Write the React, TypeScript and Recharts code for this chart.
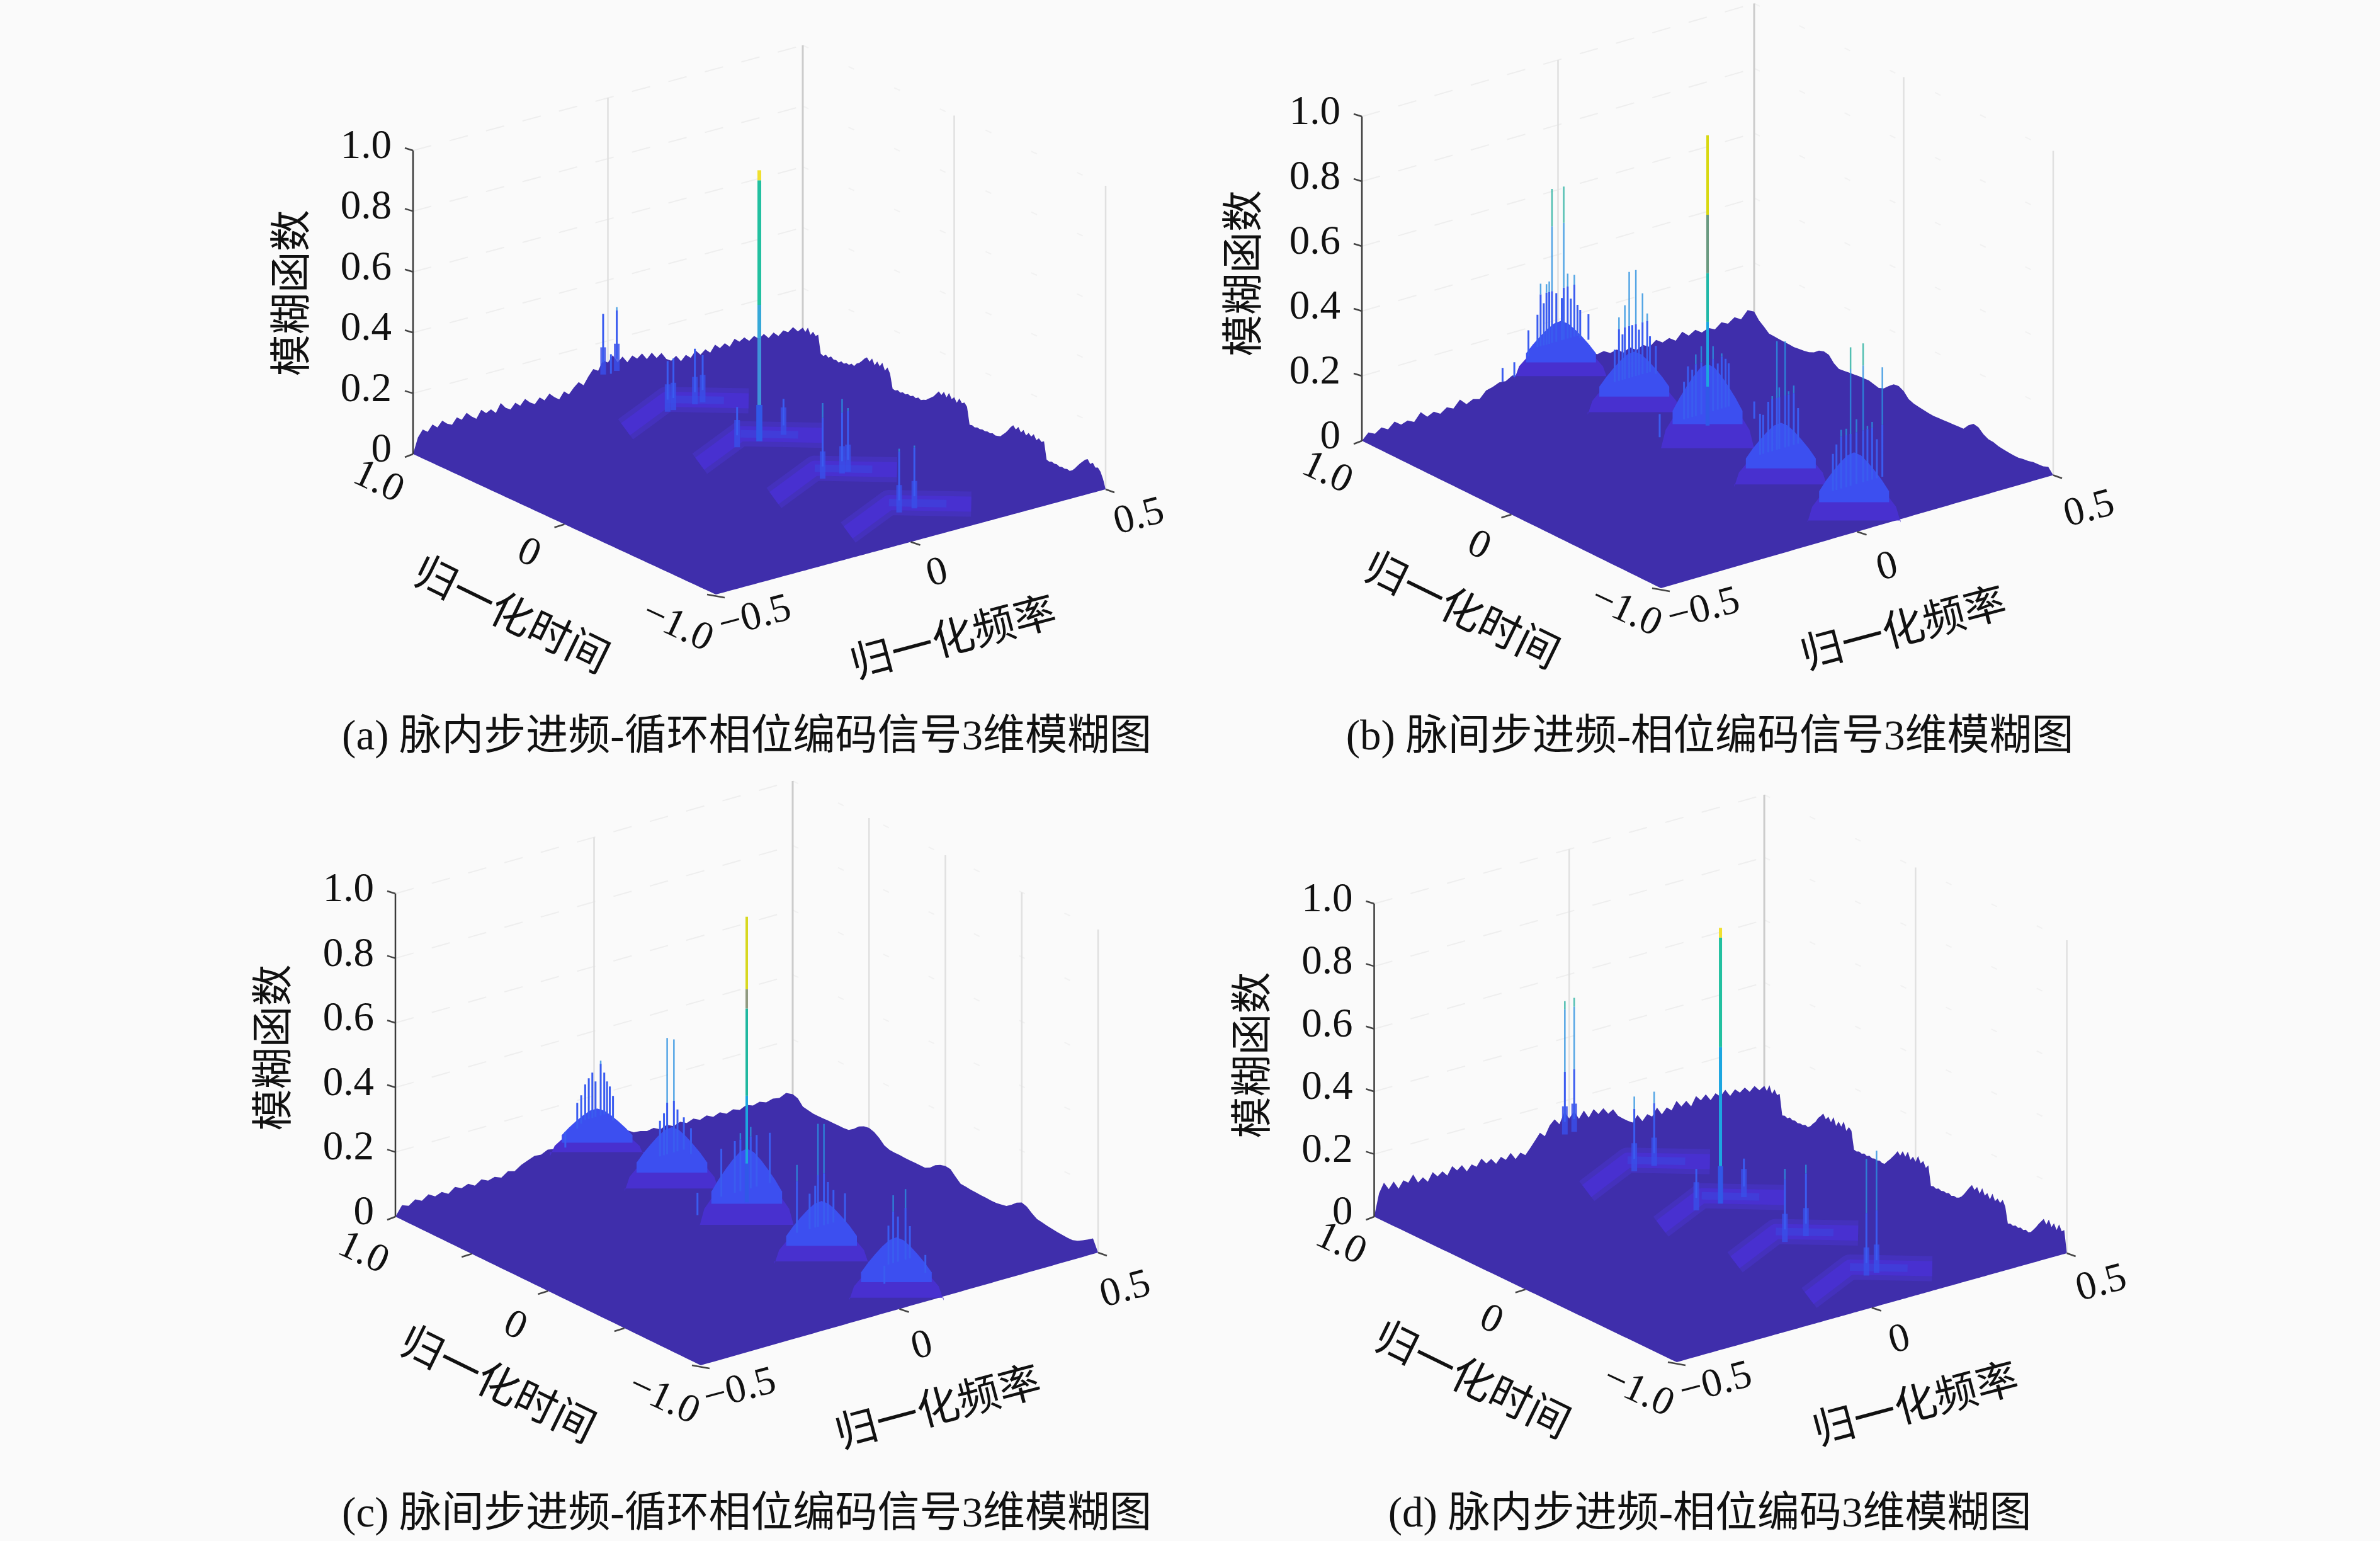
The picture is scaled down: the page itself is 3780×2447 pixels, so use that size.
import React from 'react';
import { ComposedChart, Area, Line, Scatter, XAxis, YAxis } from 'recharts';

const S = 3780 / 1568;
const LATIN = '"Liberation Serif","DejaVu Serif",serif';
const CJK = '"Liberation Serif","Noto Sans CJK SC",sans-serif';

const zTicks = [0, 0.2, 0.4, 0.6, 0.8, 1.0];
const zTickText = ['0', '0.2', '0.4', '0.6', '0.8', '1.0'];
const peakTimes = [0.98, 0.49, 0, -0.49, -0.98];

const aLeft = [0,.05,.072,.06,.08,.066,.084,.07,.062,.082,.07,.088,.072,.06,.085,.07,.078,.062,.09,.07,.06,.078,.064,.082,.066,.056,.074,.06,.078,.062,.05,.072,.058,.076,.09,.075,.1,.12,.11,.14,.128,.148,.12,.135,.112,.13,.115,.128,.105,.122,.1,.112,.088,.078,.09,.068,.084,.07,.09,.072,.085,.07,.092,.076,.088,.072,.094,.08,.09,.074,.086,.072,.084,.066,.08,.064,.078,.068,.08,.062,.07];
const aRight = [.07,.06,.078,.058,.072,.062,.07,.012,.008,.016,.01,.018,.012,.014,.01,.018,.014,.02,.018,.026,.022,.034,.04,.05,.062,.07,.06,.074,.056,.072,.06,.076,.054,.068,.052,.006,.004,.009,.005,.01,.007,.012,.009,.014,.01,.016,.012,.017,.02,.028,.036,.044,.056,.068,.06,.074,.06,.078,.062,.072,.058,.076,.064,.07,.06,.005,.007,.004,.008,.006,.009,.007,.01,.008,.012,.009,.011,.014,.024,.034,.046,.06,.07,.06,.072,.058,.07,.056,.068,.06,.072,.056,.066,.058,.064,.008,.005,.009,.006,.008,.004,.007,.005,.008,.006,.012,.022,.034,.046,.056,.066,.072,.06,.068,.056,.06,.05,.03,0];
const bLeft = [0,.02,.01,.024,.012,.03,.015,.022,.012,.036,.016,.026,.014,.028,.018,.04,.02,.03,.024,.045,.05,.058,.056,.068,.062,.072,.066,.074,.07,.076,.07,.078,.07,.076,.066,.07,.058,.062,.05,.055,.04,.05,.036,.046,.034,.05,.036,.044,.03,.052,.034,.046,.032,.04,.03,.046,.036,.05,.038,.06,.05];
const bRight = [.035,.03,.018,.005,.004,.003,.002,.002,.001,.003,.005,.008,.015,.028,.033,.03,.012,.002,.004,.006,.008,.01,.011,.012,.008,.004,.01,.025,.038,.04,.032,.015,.009,.006,.004,.002,.001,.002,.003,.004,.005,.006,.007,.025,.037,.034,.02,.012,.011,.006,.004,.002,.001,.001,.004,.006,.01,.011,.012,.018,0];
const cLeft = [0,.03,.022,.036,.026,.04,.028,.036,.024,.04,.03,.038,.026,.04,.03,.036,.028,.042,.036,.05,.058,.066,.064,.074,.07,.08,.074,.082,.076,.084,.076,.08,.07,.072,.062,.064,.052,.05,.044,.048,.038,.046,.036,.044,.034,.042,.032,.04,.03,.038,.028,.036,.028,.038,.03,.036,.028,.034,.03,.04,.03];
const cRight = [.03,.025,.007,.004,.001,.001,.001,.002,.002,.002,.002,.004,.015,.03,.038,.041,.036,.025,.01,.004,.003,.003,.002,.002,.002,.002,.002,.01,.025,.034,.038,.036,.02,.006,.005,.003,.002,.001,.001,0,0,.003,.006,.018,.032,.04,.035,.022,.012,.009,.006,.004,.002,.001,0,0,.006,.015,.025,.036,0];
const dLeft = [0,.07,.1,.075,.095,.068,.09,.078,.1,.07,.082,.064,.09,.072,.084,.066,.092,.074,.086,.062,.08,.068,.09,.07,.08,.06,.078,.064,.082,.058,.074,.062,.08,.1,.12,.105,.135,.15,.13,.165,.14,.158,.13,.152,.125,.148,.128,.142,.12,.13,.105,.092,.08,.07,.09,.066,.084,.072,.096,.07,.088,.074,.1,.078,.092,.07,.098,.08,.095,.072,.09,.075,.092,.068,.085,.07,.082,.064,.078,.06,.07];
const dRight = [.07,.058,.08,.056,.074,.06,.068,.003,.006,.002,.008,.003,.006,.002,.005,.004,.008,.005,.012,.024,.034,.05,.06,.072,.058,.07,.056,.076,.052,.07,.058,.078,.052,.068,.06,.004,.002,.006,.003,.007,.003,.008,.004,.007,.005,.008,.004,.006,.018,.028,.04,.052,.066,.056,.074,.06,.08,.058,.072,.06,.082,.062,.074,.056,.068,.006,.009,.005,.01,.006,.009,.007,.011,.006,.01,.008,.012,.02,.032,.046,.06,.072,.06,.074,.056,.078,.058,.07,.054,.076,.056,.068,.058,.072,.054,.004,.008,.005,.01,.006,.011,.007,.012,.008,.013,.024,.036,.05,.062,.074,.06,.08,.06,.076,.058,.08,.062,.07,0];

// [peak index, frequency offset, amplitude]
const aSpikes = [[0,-.02,.30],[0,.015,.31],[0,0,.16],[1,-.045,.267],[1,-.03,.27],[1,.025,.283],[1,.045,.255],[2,-.057,.233],[2,.062,.218],[3,-.028,.349],[3,.022,.345],[3,.037,.31],[4,-.022,.31],[4,.017,.307]];
const bSpikes = [[0,-.023,.615],[0,.007,.612],[0,-.052,.333],[0,-.037,.326],[0,-.03,.332],[0,.017,.34],[0,.034,.33],[0,.07,.196],[0,-.083,.2],[0,-.119,.114],[0,-.149,.107],[0,.049,.217],[1,-.013,.467],[1,.004,.467],[1,-.039,.336],[1,.033,.323],[1,.021,.389],[1,-.024,.368],[2,-.06,.256],[2,-.039,.286],[2,.026,.282],[2,.054,.273],[2,-.122,.178],[2,.119,.133],[3,-.01,.475],[3,.011,.467],[3,-.032,.296],[3,.033,.323],[3,-.053,.266],[4,-.009,.567],[4,.023,.568],[4,-.033,.321],[4,.072,.477],[4,.046,.318],[4,-.054,.254],
  [0,-.06,.24],[0,-.044,.27],[0,-.012,.29],[0,.002,.27],[0,.025,.26],[0,.042,.235],[1,-.05,.24],[1,-.03,.28],[1,-.005,.3],[1,.012,.28],[1,.04,.25],[1,.055,.215],[2,-.05,.3],[2,-.03,.33],[2,-.016,.35],[2,.014,.34],[2,.036,.31],[2,.046,.29],[3,-.045,.26],[3,-.022,.31],[3,-.004,.33],[3,.02,.31],[3,.044,.25],[4,-.045,.28],[4,-.02,.32],[4,.006,.34],[4,.034,.31],[4,.058,.26]];
const cSpikes = [[0,-.021,.266],[0,.009,.31],[0,.032,.222],[0,-.05,.2],[0,-.08,.12],[1,-.012,.50],[1,.005,.49],[1,.048,.2],[2,-.064,.288],[2,.058,.295],[2,-.124,.173],[3,-.009,.459],[3,.006,.453],[3,-.062,.35],[3,.059,.22],[4,-.03,.14],[4,-.008,.35],[4,.023,.358],[4,.073,.137],
  [0,-.04,.22],[0,-.03,.25],[0,-.012,.28],[0,-.004,.25],[0,.018,.27],[0,.025,.24],[0,.04,.19],[1,-.03,.25],[1,-.02,.27],[1,.014,.27],[1,.03,.24],[2,-.03,.3],[2,-.016,.32],[2,.01,.33],[2,.025,.3],[3,-.03,.25],[3,-.016,.27],[3,.016,.27],[3,.03,.24],[4,-.02,.26],[4,.004,.28],[4,.034,.24]];
const dSpikes = [[0,-.019,.526],[0,.005,.528],[1,-.031,.339],[1,.02,.337],[2,-.062,.233],[2,.06,.223],[3,-.025,.334],[3,.029,.328],[4,-.006,.473],[4,.02,.49]];

// [from, to, colour] along the central spike
const aMain = [[.1,.22,'#3058e8'],[.22,.44,'#3f93d8'],[.44,.55,'#36a8d8'],[.55,.96,'#22c0a0'],[.96,.993,'#f0e030']];
const bMain = [[.1,.22,'#3058e8'],[.22,.42,'#1ca6e0'],[.42,.57,'#20b8a8'],[.57,.75,'#6a9a80'],[.75,.995,'#d8d810']];
const cMain = [[.1,.22,'#3058e8'],[.22,.43,'#1ca6e0'],[.43,.7,'#20b8a0'],[.7,.76,'#909a80'],[.76,.984,'#d8d820']];
const dMain = [[.1,.22,'#3058e8'],[.22,.6,'#1ca6e0'],[.6,.95,'#22c0a0'],[.95,.981,'#f0e030']];

const bHumps = [.2, .217, .29, .22, .24];
const cHumps = [.165, .22, .266, .217, .217];
const humpU = [-1,-.9,-.75,-.6,-.45,-.3,-.15,0,.15,.3,.45,.6,.75,.9,1];
const humpShape = [.1,.3,.5,.64,.76,.87,.96,1,.96,.87,.76,.64,.5,.3,.1];

const bandF = [-.09,-.004,.124];
const bandT = [.162,.114,-.1];
const bandA = [.02,.1,.1];

const panels = [
  { id:'a', ox:0, oy:0, L:[656,721], F:[1137,944], R:[1756,777], H:482, left:aLeft, right:aRight, spikes:aSpikes, main:aMain, mainW:6, humps:null, timeTicks:[0], caption:'(a) 脉内步进频-循环相位编码信号3维模糊图', capX:492, capY:484,
    zl:[192,193], tl:[337,405], fl:[628,420], tt:[[250,316],[349,363],[447,411]], ft:[[497,405],[617,376],[750,339]] },
  { id:'b', ox:1890, oy:0, L:[2163,700], F:[2638,934], R:[3261,754.5], H:515, left:bLeft, right:bRight, spikes:bSpikes, main:bMain, mainW:4, humps:bHumps, timeTicks:[0], caption:'(b) 脉间步进频-相位编码信号3维模糊图', capX:1126.5, capY:484,
    zl:[819,180], tl:[963,402], fl:[1254,414], tt:[[875,310],[975,358],[1072,401]], ft:[[1122,400],[1243,372],[1376,334]] },
  { id:'c', ox:0, oy:1223, L:[628,1932], F:[1113,2168], R:[1744,1989], H:513, left:cLeft, right:cRight, spikes:cSpikes, main:cMain, mainW:4, humps:cHumps, timeTicks:[.5,0,-.5], caption:'(c) 脉间步进频-循环相位编码信号3维模糊图', capX:492, capY:996,
    zl:[180,690], tl:[328,912], fl:[618,927], tt:[[240,824],[340,872],[438,920]], ft:[[487,914],[607,885],[741,848]] },
  { id:'d', ox:1890, oy:1223, L:[2182.5,1932], F:[2663,2163], R:[3282.6,1990], H:497, left:dLeft, right:dRight, spikes:dSpikes, main:dMain, mainW:5, humps:null, timeTicks:[0], caption:'(d) 脉内步进频-相位编码3维模糊图', capX:1126.5, capY:996,
    zl:[825,695], tl:[970,909], fl:[1262,925], tt:[[884,818],[983,868],[1080,915]], ft:[[1130,910],[1251,881],[1384,844]] },
];

const CW = 1890, CH = 1224;

function build(p: any) {
  const L = [p.L[0]-p.ox, p.L[1]-p.oy], F = [p.F[0]-p.ox, p.F[1]-p.oy], R = [p.R[0]-p.ox, p.R[1]-p.oy];
  const H = p.H;
  const vOf = (y: number) => (L[1]-y)/H;
  const P = (f: number, t: number, a: number) => {
    const u = f+.5, w = (t+1)/2;
    const x = F[0]+u*(R[0]-F[0])+w*(L[0]-F[0]);
    const y = F[1]+u*(R[1]-F[1])+w*(L[1]-F[1])-a*H;
    return { x, v: vOf(y) };
  };
  const brk = { x: 0, v: null as any };
  const segs = (list: any[][]) => { const o: any[] = []; list.forEach(s => { s.forEach(q => o.push(q)); o.push(brk); }); return o; };
  const off = (q: any, dx: number, dy: number) => ({ x: q.x+dx, v: q.v-dy/H });

  // surface
  const top: any[] = [];
  p.left.forEach((a: number, i: number) => top.push(P(-.5+i/(p.left.length-1), 1, a)));
  p.right.forEach((a: number, i: number) => { if (i>0) top.push(P(.5, 1-2*i/(p.right.length-1), a)); });
  const base = (x: number) => x<=F[0]
    ? vOf(L[1]+(x-L[0])/(F[0]-L[0])*(F[1]-L[1]))
    : vOf(F[1]+(x-F[0])/(R[0]-F[0])*(R[1]-F[1]));
  const surf: any[] = [];
  top.forEach((q, i) => {
    if (i>0 && top[i-1].x<F[0] && q.x>=F[0]) {
      const r = (F[0]-top[i-1].x)/(q.x-top[i-1].x);
      surf.push({ x:F[0], range:[base(F[0]), top[i-1].v+r*(q.v-top[i-1].v)] });
    }
    surf.push({ x:q.x, range:[base(q.x), q.v] });
  });

  // walls
  const levels = zTicks.filter(z => z>0);
  const wallLeft = segs(levels.map(z => [P(-.5,1,z), P(.5,1,z)]));
  const wallRight = segs(levels.map(z => [P(.5,1,z), P(.5,-1,z)]));
  const backEdge = segs([[P(.5,1,0), P(.5,1,1)]]);
  const verts = segs([[P(0,1,0),P(0,1,1)], [P(.5,-1,0),P(.5,-1,1)], ...p.timeTicks.map((t: number) => [P(.5,t,0),P(.5,t,1)])]);
  const zAxis = segs([[P(-.5,1,0),P(-.5,1,1)]]);
  const ticks = segs([
    ...zTicks.map(z => { const q = P(-.5,1,z); return [q, off(q,-13,z===0?5:-4)]; }),
    ...p.timeTicks.map((t: number) => { const q = P(-.5,t,0); return [q, off(q,-16,5)]; }),
    (() => { const q = P(0,-1,0); return [q, off(q,15,5)]; })(),
    (() => { const q = P(-.5,-1,0); return [off(q,-14,0), off(q,14,5)]; })(),
    (() => { const q = P(.5,-1,0); return [q, off(q,14,5)]; })(),
  ]);

  // spikes
  const cls: any = { blue:[], sky:[], teal:[], glow:[] };
  p.spikes.forEach((s: number[]) => {
    const t = peakTimes[s[0]], f = s[1], a = s[2];
    const from = Math.min(.14, a*.6);
    cls.blue.push([P(f,t,from), P(f,t,Math.min(a,.3))]);
    if (a>.3) cls.sky.push([P(f,t,.3), P(f,t,Math.min(a,.5))]);
    if (a>.5) cls.teal.push([P(f,t,.5), P(f,t,a)]);
    if (!p.humps && a>.2) cls.glow.push([P(f,t,.1), P(f,t,.19)]);
  });
  const mains = p.main.map((m: any, i: number) => ({ color:m[2], wide:i===0, data:segs([[P(0,0,m[0]), P(0,0,m[1])]]) }));

  // bands
  const bandOuter: any[][] = [], bandInner: any[][] = [];
  const purple: any[] = [], light: any[] = [];
  if (!p.humps) {
    [1,2,3,4].forEach(k => {
      const t0 = peakTimes[k];
      bandOuter.push(bandF.map((f,i) => P(f,t0+bandT[i],bandA[i])));
      bandInner.push([1,2].map(i => { const r = i===2 ? .7 : 0; const f = bandF[1]+r*(bandF[2]-bandF[1]); const t = bandT[1]+r*(bandT[2]-bandT[1]); return P(f,t0+t,.1); }));
    });
  } else {
    const fy = R[1]-F[1], ty = (L[1]-F[1])/2;
    p.humps.forEach((h: number, k: number) => {
      const t0 = peakTimes[k];
      const pts = (hw: number, us: number[], shape: number[], lo: (s:number)=>number, hi: (s:number)=>number) => us.map((u,i) => {
        const df = u*hw, dt = -(fy/ty)*df;
        const qa = P(df,t0+dt,lo(shape[i])), qb = P(df,t0+dt,hi(shape[i]));
        return { x:qa.x, range:[qa.v,qb.v] };
      });
      purple.push(pts(.075,humpU,humpShape,()=>.03,s=>Math.min(s*h,h*.42)));
      light.push(pts(.075,humpU.slice(2,13),humpShape.slice(2,13),()=>h*.36,s=>Math.max(s*h,h*.36)));
    });
  }

  // labels
  const txt = (dx: number, dy: number, text: string, rot: number, size: number, family: string) => ({ x:dx*S-p.ox, v:vOf(dy*S-p.oy), text, rot, size, family });
  const labels = [
    txt(p.zl[0],p.zl[1],'模糊函数',-90,66,CJK),
    txt(p.tl[0],p.tl[1],'归一化时间',26,67,CJK),
    txt(p.fl[0],p.fl[1],'归一化频率',-15,67,CJK),
    ...['1.0','0','−1.0'].map((s,i) => txt(p.tt[i][0],p.tt[i][1],s,25,64,LATIN)),
    ...['−0.5','0','0.5'].map((s,i) => txt(p.ft[i][0],p.ft[i][1],s,-15,64,LATIN)),
    txt(p.capX,p.capY,p.caption,0,67,CJK),
  ];
  return { L, surf, wallLeft, wallRight, backEdge, verts, zAxis, ticks, blue:segs(cls.blue), sky:segs(cls.sky), teal:segs(cls.teal), glow:segs(cls.glow), mains,
    bandOuter:segs(bandOuter), bandInner:segs(bandInner), purple, light, labels,
    domain:[vOf(CH), vOf(0)] };
}

const lineProps: any = { dataKey:'v', dot:false, activeDot:false, isAnimationActive:false, connectNulls:false, legendType:'none', strokeLinecap:'butt' };

const labelShape = (q: any) => {
  const d = q.payload;
  return <text x={q.cx} y={q.cy} fontFamily={d.family} fontSize={d.size} fill="#111" textAnchor="middle" dominantBaseline="central" transform={`rotate(${d.rot} ${q.cx} ${q.cy})`}>{d.text}</text>;
};

function Panel({ p }: any) {
  const g = build(p);
  const renderTick = (t: any) => {
    const i = zTicks.indexOf(t.payload.value);
    return <text x={g.L[0]-34} y={t.y-10} fontFamily={LATIN} fontSize={65} fill="#111" textAnchor="end" dominantBaseline="central">{zTickText[i]}</text>;
  };
  let z = 10;
  const nz = () => (z += 1);
  return (
    <div style={{ position:'absolute', left:p.ox, top:p.oy, width:CW, height:CH }}>
      <ComposedChart width={CW} height={CH} margin={{ top:0, right:0, bottom:0, left:-1 }}>
        <XAxis dataKey="x" type="number" domain={[0,CW]} hide />
        <YAxis type="number" domain={g.domain} ticks={zTicks} interval={0} width={1} tickSize={0} tickMargin={0} axisLine={false} tickLine={false} tick={renderTick} />
        <Line {...lineProps} zIndex={nz()} data={g.wallLeft} stroke="#eeeeee" strokeWidth={2} strokeDasharray="30 30" />
        <Line {...lineProps} zIndex={nz()} data={g.wallRight} stroke="#f1f1f1" strokeWidth={2} strokeDasharray="10 70" />
        <Line {...lineProps} zIndex={nz()} data={g.verts} stroke="#e0e0e0" strokeWidth={2.5} />
        <Line {...lineProps} zIndex={nz()} data={g.backEdge} stroke="#cccccc" strokeWidth={3} />
        <Area zIndex={nz()} data={g.surf} dataKey="range" type="linear" fill="#3f2eab" fillOpacity={1} stroke="none" isAnimationActive={false} legendType="none" dot={false} activeDot={false} />
        {g.purple.map((d: any, i: number) => <Area key={'p'+i} zIndex={nz()} data={d} dataKey="range" type="linear" fill="#4830cf" fillOpacity={1} stroke="none" isAnimationActive={false} legendType="none" dot={false} activeDot={false} />)}
        {g.light.map((d: any, i: number) => <Area key={'l'+i} zIndex={nz()} data={d} dataKey="range" type="linear" fill="#3c4ff0" fillOpacity={1} stroke="none" isAnimationActive={false} legendType="none" dot={false} activeDot={false} />)}
        <Line {...lineProps} zIndex={nz()} data={g.bandOuter} stroke="#4431bc" strokeWidth={40} strokeLinejoin="round" />
        <Line {...lineProps} zIndex={nz()} data={g.bandOuter} stroke="#4830d0" strokeWidth={24} strokeLinejoin="round" />
        <Line {...lineProps} zIndex={nz()} data={g.bandInner} stroke="#3d44e0" strokeWidth={12} strokeOpacity={0.6} />
        <Line {...lineProps} zIndex={nz()} data={g.glow} stroke="#3a4ee8" strokeWidth={9} strokeOpacity={0.85} />
        <Line {...lineProps} zIndex={nz()} data={g.blue} stroke="#3a5cf0" strokeWidth={3} />
        <Line {...lineProps} zIndex={nz()} data={g.sky} stroke="#2a90e0" strokeWidth={2.5} strokeOpacity={0.8} />
        <Line {...lineProps} zIndex={nz()} data={g.teal} stroke="#28b0a0" strokeWidth={2.5} strokeOpacity={0.8} />
        {g.mains.map((m: any, i: number) => <Line key={'m'+i} {...lineProps} zIndex={nz()} data={m.data} stroke={m.color} strokeWidth={m.wide ? p.mainW*1.6 : p.mainW} />)}
        <Line {...lineProps} zIndex={nz()} data={g.zAxis} stroke="#3a3a3a" strokeWidth={2.5} />
        <Line {...lineProps} zIndex={nz()} data={g.ticks} stroke="#444" strokeWidth={2.5} />
        <Scatter zIndex={nz()} data={g.labels} dataKey="v" isAnimationActive={false} legendType="none" shape={labelShape} />
      </ComposedChart>
    </div>
  );
}

export default function App() {
  return (
    <div style={{ position:'absolute', left:0, top:0, width:3780, height:2447, background:'#fafafa', overflow:'hidden' }}>
      {panels.map(p => <Panel key={p.id} p={p} />)}
    </div>
  );
}
